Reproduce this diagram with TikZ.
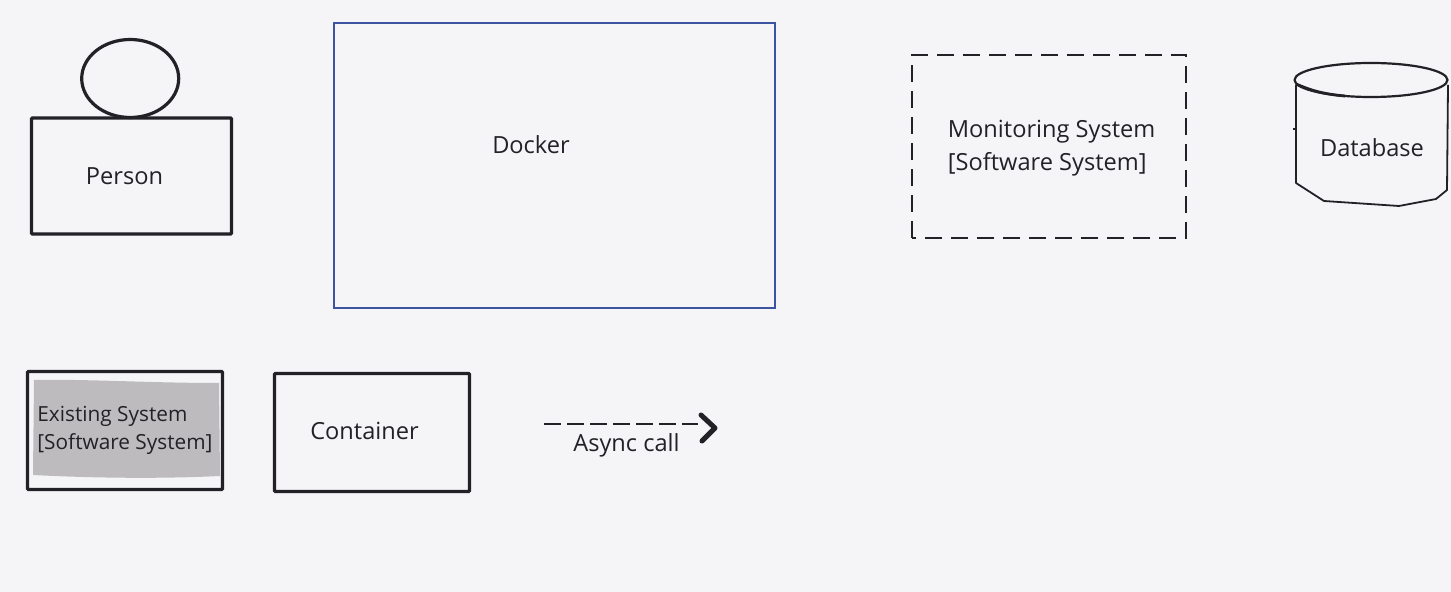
\documentclass[tikz,border=0pt]{standalone}
\usepackage{fontspec}
\setmainfont{Open Sans}
\usetikzlibrary{arrows.meta,shapes.geometric}
\definecolor{pagebg}{HTML}{F5F5F8}
\definecolor{inkblack}{HTML}{222226}
\definecolor{dockerblue}{HTML}{3B55A0}
\definecolor{shadegray}{HTML}{BDBBBE}
\tikzset{>=latex,
  thickbox/.style={draw=inkblack,line width=1.6pt,rectangle,inner sep=0pt,rounded corners=0.5pt},
  labeltext/.style={text=inkblack,font=\fontsize{11.8}{16.5}\selectfont,align=left,inner sep=0pt},
  smalltext/.style={text=inkblack,font=\fontsize{10.4}{14}\selectfont,align=left,inner sep=0pt},
  sketchline/.style={draw=inkblack,line width=0.9pt,line join=round}
}

\begin{document}
\begin{tikzpicture}[x=0.5pt,y=-0.5pt]
        \fill[pagebg] (0,0) rectangle (1451,592);
        \useasboundingbox (0,0) rectangle (1451,592);
        % top row
        \node[thickbox,ellipse,minimum width=48.5pt,minimum height=39pt] (head) at (130.2,78.5) {};
        \node[thickbox,minimum width=100pt,minimum height=58pt] (person) at (131.5,176) {};
        \node[labeltext] (personlabel) at (124.5,176.5) {Person};
        \node[rectangle,draw=dockerblue,line width=1pt,minimum width=220.5pt,minimum height=142.5pt,inner sep=0pt] (docker) at (554.2,165.5) {};
        \node[labeltext] (dockerlabel) at (531,145) {Docker};
        \draw[draw=inkblack,line width=0.65pt,dash pattern=on 8.5pt off 4.5pt] (912,238) -- (912,55) -- (1186,55) -- (1186,238) -- cycle;
        \node[labeltext,anchor=west] (monitoring) at (947.5,148.5) {Monitoring System\\{[Software System]}};
        % database
        \draw[sketchline] (1296,85) -- (1296,183) -- (1324,201) -- (1399,206) -- (1436,199) -- (1447,190) -- (1448,85);
        \draw[sketchline,line width=1.1pt,fill=pagebg] (1371,80) ellipse [x radius=76.5,y radius=17];
        \draw[inkblack,line width=1.4pt] (1296,84) .. controls (1310,90) and (1322,94) .. (1345,96);
        \draw[inkblack,line width=0.8pt] (1293,129) -- (1295,129);
        \node[labeltext] (dblabel) at (1372,148) {Database};
        % bottom row
        \node[thickbox,minimum width=97.5pt,minimum height=59pt] (existing) at (125,430.5) {};
        \fill[shadegray] (34,380) .. controls (90,379) and (150,383) .. (219,383) -- (220,476) .. controls (160,479) and (90,478) .. (33,475) -- cycle;
        \node[smalltext,anchor=west] (existinglabel) at (37,430) {Existing System\\{[Software System]}};
        \node[thickbox,minimum width=97.5pt,minimum height=59pt] (container) at (372,432.5) {};
        \node[labeltext] (containerlabel) at (364.5,431) {Container};
        % legend arrow
        \coordinate (asyncstart) at (544,424);
        \coordinate (asyncend) at (698,424);
        \coordinate (tiptop) at (701,415);
        \coordinate (tipmid) at (715,428);
        \coordinate (tipend) at (702,441);
        \draw[inkblack,line width=0.6pt,dash pattern=on 8.5pt off 3pt] (asyncstart) -- (asyncend);
        \draw[inkblack,line width=2.5pt,line cap=round,line join=round] (tiptop) -- (tipmid) -- (tipend);
        \node[labeltext] (asynclabel) at (626.5,445) {Async call};
\end{tikzpicture}
\end{document}
